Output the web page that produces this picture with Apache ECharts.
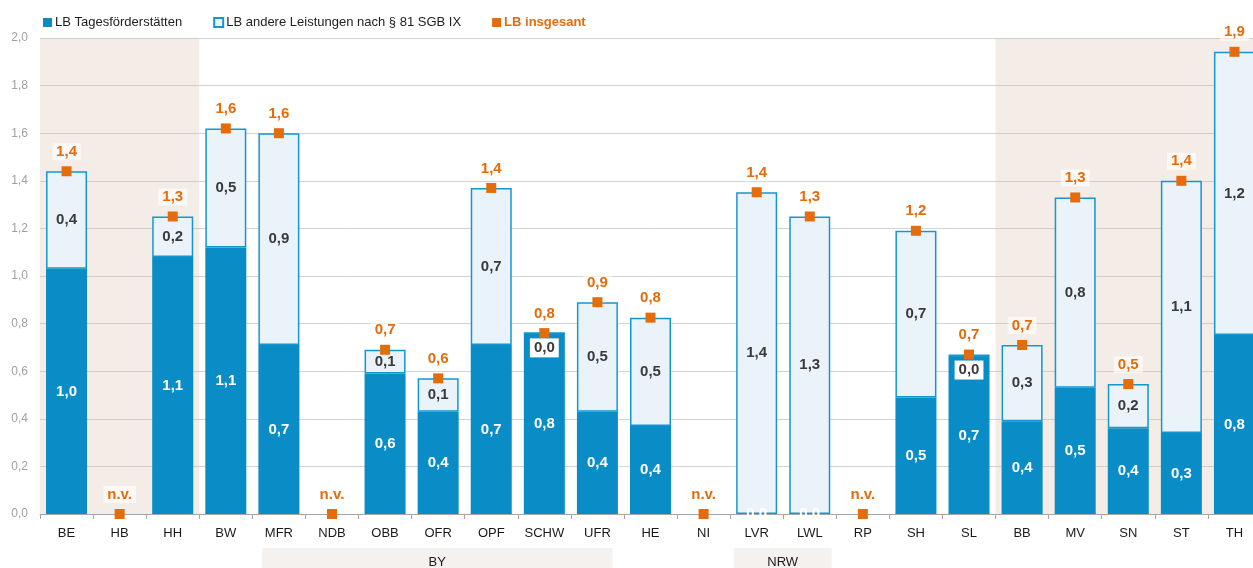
<!DOCTYPE html>
<html>
<head>
<meta charset="utf-8">
<script src="https://cdn.jsdelivr.net/npm/echarts@6/dist/echarts.min.js"></script>
<style>
  html, body { margin: 0; padding: 0; background: #fff; overflow: hidden; }
  /* etwas breiter als das Fenster: rechter Rand wird wie im Original abgeschnitten */
  #main { width: 1261px; height: 568px; }
</style>
</head>
<body>
<div id="main"></div>
<script>
// Kategorien (Länder / Bezirke)
var categories = ['BE', 'HB', 'HH', 'BW', 'MFR', 'NDB', 'OBB', 'OFR', 'OPF', 'SCHW', 'UFR',
  'HE', 'NI', 'LVR', 'LWL', 'RP', 'SH', 'SL', 'BB', 'MV', 'SN', 'ST', 'TH'];

// LB Tagesförderstätten (null = n.v.)
var tagesVals = [1.03, null, 1.08, 1.12, 0.71, null, 0.59, 0.43, 0.71, 0.76, 0.43,
  0.37, null, 0, 0, null, 0.49, 0.66, 0.39, 0.53, 0.36, 0.34, 0.752];

// LB andere Leistungen nach § 81 SGB IX
var andereVals = [0.41, null, 0.17, 0.50, 0.89, null, 0.10, 0.14, 0.66, 0, 0.46,
  0.455, null, 1.352, 1.25, null, 0.70, 0.01, 0.32, 0.80, 0.186, 1.06, 1.19];

// LB insgesamt (null = n.v.)
var gesamtVals = [1.44, null, 1.25, 1.62, 1.60, null, 0.69, 0.57, 1.37, 0.76, 0.89,
  0.825, null, 1.352, 1.25, null, 1.19, 0.67, 0.71, 1.33, 0.546, 1.40, 1.942];

// hinterlegte Bereiche und Gruppen unter der Achse
var shaded = ['BE', 'HB', 'HH', 'BB', 'MV', 'SN', 'ST', 'TH'];
var groups = [
  { name: 'BY', from: 'MFR', to: 'UFR' },
  { name: 'NRW', from: 'LVR', to: 'LWL' }
];

var yTicks = [0, 0.2, 0.4, 0.6, 0.8, 1.0, 1.2, 1.4, 1.6, 1.8, 2.0];

var FONT = "'Liberation Sans Narrow', 'Arial Narrow', 'Liberation Sans', sans-serif";
var DARK = '#0A8CC6';
var LIGHT = '#EAF3FA';
var LIGHT_BORDER = '#1596D0';
var ORANGE = '#E46C0A';

function fmt(v) {
  return v.toFixed(1).replace('.', ',');
}

var chart = echarts.init(document.getElementById('main'));

var andereData = andereVals.map(function (v) {
  if (v === null) return null;
  if (v < 0.05) { // 0,0 Beschriftung mit weißem Kasten
    return {
      value: v,
      label: { position: 'insideTop', distance: 6, backgroundColor: '#fff', padding: [2, 4] }
    };
  }
  return v;
});

var gesamtData = gesamtVals.map(function (v) {
  return { value: v === null ? 0 : v, nv: v === null };
});

var option = {
  animation: false,
  textStyle: { fontFamily: FONT },
  legend: {
    left: 38,
    top: 11,
    itemWidth: 9,
    itemHeight: 9,
    itemGap: 31,
    textStyle: { fontFamily: FONT, fontSize: 13, color: '#222', padding: [0, 0, 0, -2] },
    data: [
      { name: 'LB Tagesförderstätten', icon: 'rect' },
      { name: 'LB andere Leistungen nach § 81 SGB IX', icon: 'rect' },
      { name: 'LB insgesant', icon: 'rect', textStyle: { color: ORANGE, fontWeight: 'bold' } }
    ]
  },
  grid: { left: 40, right: 0, top: 38, bottom: 54 },
  xAxis: {
    type: 'category',
    data: categories,
    axisLine: { lineStyle: { color: '#A6A6A6' } },
    axisTick: { show: true, length: 5, lineStyle: { color: '#A6A6A6' } },
    axisLabel: { color: '#1a1a1a', fontSize: 13, fontFamily: FONT, margin: 13 },
    splitArea: {
      show: true,
      areaStyle: {
        // halbtransparent, damit die Gitterlinien durchscheinen
        color: categories.map(function (c) {
          return shaded.indexOf(c) >= 0 ? 'rgba(211,179,155,0.25)' : 'rgba(255,255,255,0)';
        })
      }
    }
  },
  yAxis: {
    type: 'value',
    min: 0,
    max: 2,
    interval: 0.2,
    axisLine: { show: false },
    axisTick: { show: false },
    axisLabel: {
      color: '#A0A0A0',
      fontSize: 12,
      fontFamily: FONT,
      margin: 12,
      formatter: function (v) {
        var t = yTicks.filter(function (x) { return Math.abs(x - v) < 1e-6; })[0];
        return fmt(t !== undefined ? t : v);
      }
    },
    splitLine: { lineStyle: { color: '#D3D3D3', width: 1 } }
  },
  series: [
    {
      name: 'LB Tagesförderstätten',
      type: 'bar',
      stack: 'lb',
      barWidth: 41,
      data: tagesVals,
      itemStyle: { color: DARK },
      label: {
        show: true,
        position: 'inside',
        color: '#fff',
        fontSize: 15,
        fontWeight: 'bold',
        fontFamily: FONT,
        formatter: function (p) { return fmt(p.value); }
      },
      z: 2
    },
    {
      name: 'LB andere Leistungen nach § 81 SGB IX',
      type: 'bar',
      stack: 'lb',
      barWidth: 41,
      data: andereData,
      itemStyle: { color: LIGHT, borderColor: LIGHT_BORDER, borderWidth: 1.5 },
      label: {
        show: true,
        position: 'inside',
        color: '#3A3A3A',
        fontSize: 15,
        fontWeight: 'bold',
        fontFamily: FONT,
        formatter: function (p) { return fmt(p.value); }
      },
      z: 2
    },
    {
      name: 'LB insgesant',
      type: 'scatter',
      symbol: 'rect',
      symbolSize: 10,
      data: gesamtData,
      itemStyle: { color: ORANGE, opacity: 1 },
      label: {
        show: true,
        position: 'top',
        distance: 6,
        color: ORANGE,
        fontSize: 15,
        fontWeight: 'bold',
        fontFamily: FONT,
        backgroundColor: 'rgba(255,255,255,0.6)',
        padding: [1, 4],
        formatter: function (p) { return p.data.nv ? 'n.v.' : fmt(p.value); }
      },
      z: 5
    }
  ]
};

chart.setOption(option);

// Gruppenkästen unter der Kategorienachse
var boxPad = { BY: [17, 15], NRW: [23, 22] };
var graphics = [];
groups.forEach(function (g) {
  var pad = boxPad[g.name];
  var x1 = chart.convertToPixel({ xAxisIndex: 0 }, g.from) - pad[0];
  var x2 = chart.convertToPixel({ xAxisIndex: 0 }, g.to) + pad[1];
  graphics.push({
    type: 'rect',
    shape: { x: x1, y: 548, width: x2 - x1, height: 24 },
    style: { fill: '#F5F1EE' },
    silent: true
  });
  graphics.push({
    type: 'text',
    x: (x1 + x2) / 2,
    y: 562,
    style: {
      text: g.name,
      fill: '#1a1a1a',
      font: '13px ' + FONT,
      textAlign: 'center',
      textVerticalAlign: 'middle'
    },
    silent: true
  });
});
chart.setOption({ graphic: graphics });
</script>
</body>
</html>
